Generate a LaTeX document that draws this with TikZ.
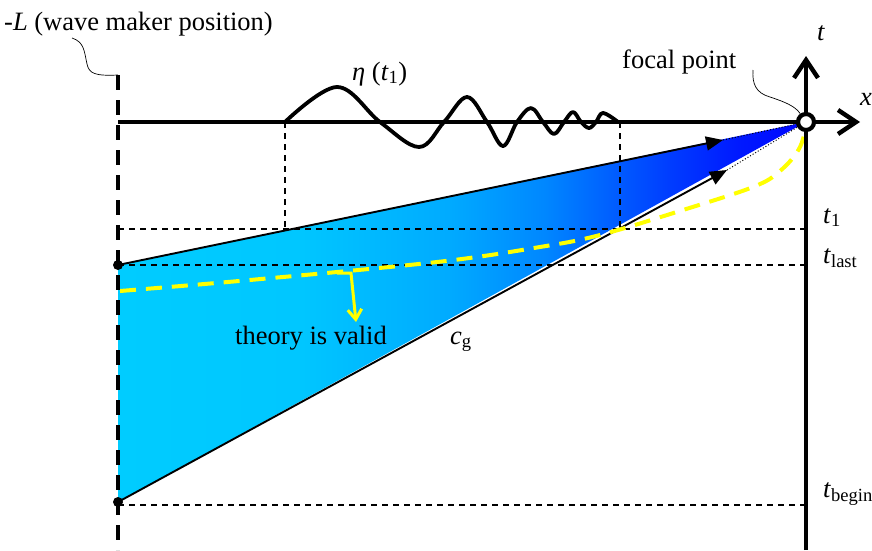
\documentclass[tikz,border=0pt]{standalone}
\usepackage{fontspec}
\setmainfont{Liberation Serif}
\usetikzlibrary{arrows.meta}
\definecolor{yel}{RGB}{255,255,0}
\pgfdeclarehorizontalshading{waveshade}{100bp}{%
  rgb(0bp)=(0,0.80,1);
  rgb(25bp)=(0,0.80,1);
  rgb(38bp)=(0,0.78,1);
  rgb(49bp)=(0,0.67,1);
  rgb(56bp)=(0,0.53,1);
  rgb(60bp)=(0,0.40,1);
  rgb(65bp)=(0,0.24,1);
  rgb(70bp)=(0,0.10,1);
  rgb(75bp)=(0,0.02,1);
  rgb(100bp)=(0,0.02,1)}
\begin{document}
\begin{tikzpicture}[x=1pt,y=-1pt,
  lbl/.style={inner sep=0pt, font=\fontsize{26.5}{30}\selectfont},
  thindash/.style={dash pattern=on 6pt off 5pt, line width=1.6pt},
  thickdash/.style={dash pattern=on 15pt off 10pt, line width=4pt},
  axisline/.style={line width=4.4pt, -{Straight Barb[length=18pt,width=24pt,line width=4.4pt]}},
  ray/.style={line width=1.9pt, -{Triangle[length=17pt,width=14pt]}},
  dotray/.style={dotted, line width=1pt},
  leader/.style={line width=0.7pt},
  yelcurve/.style={yel, line width=4pt, dash pattern=on 16pt off 10pt},
  dot/.style={circle, fill=black, inner sep=0pt, minimum size=10pt}]
\useasboundingbox (0,0) rectangle (872,550);
% key coordinates
\coordinate (F) at (806,122);
\coordinate (A) at (118,265);
\coordinate (B) at (118,502);
\coordinate (Au) at (723,140);
\coordinate (Bu) at (727,170);
\coordinate (W0) at (285,122);
\coordinate (W1) at (620,122);
\coordinate (W0b) at (285,229);
\coordinate (W1b) at (620,229);
\coordinate (T1l) at (118,229);
\coordinate (T1r) at (806,229);
\coordinate (TLl) at (118,265);
\coordinate (TLr) at (806,265);
\coordinate (TBl) at (118,505);
\coordinate (TBr) at (806,505);
\coordinate (Ltop) at (118,75);
\coordinate (Lbot) at (118,550);
\coordinate (Xs) at (118,122);
\coordinate (Xe) at (860,122);
\coordinate (Ts) at (806,550);
\coordinate (Te) at (806,56);
% blue region
\shade[shading=waveshade] (A) -- (F) -- (B) -- cycle;
% thin dashed lines
\draw[thindash] (T1l) -- (T1r);
\draw[thindash] (TLl) -- (TLr);
\draw[thindash] (TBl) -- (TBr);
\draw[thindash] (W0) -- (W0b);
\draw[thindash] (W1) -- (W1b);
% rays
\draw[ray] (A) -- (Au);
\draw[ray] (B) -- (Bu);
\draw[dotray] (Au) -- (F);
\draw[dotray] (Bu) -- (F);
% wave
\draw[line width=3.8pt, line join=round]
  plot[smooth, tension=0.6] coordinates {(285,122) (337,87) (380,122) (419,147) (444,122) (467,97) (487,122) (503,146) (517,122) (531,108) (543,122) (554,134) (564,122) (573,112) (581,122) (589,128) (596,122) (603,113) (618,122)};
% yellow validity curve
\draw[yelcurve] plot[smooth, tension=0.6] coordinates {(120,291) (250,280) (437,262) (540,247) (600,235) (683,210) (753,187) (780,171) (800,147) (808,116)};
\coordinate (Y0) at (337,273);
\coordinate (Y1) at (351,273);
\coordinate (Y2) at (356,322);
\draw[yel, line width=3pt, -{Straight Barb[length=10pt,width=14pt,line width=3pt]}] (Y0) -- (Y1) -- (Y2);
% left dashed line
\draw[thickdash] (Ltop) -- (Lbot);
% axes
\draw[axisline] (Xs) -- (Xe);
\draw[axisline] (Ts) -- (Te);
% dots
\node[dot] (DA) at (A) {};
\node[dot] (DB) at (B) {};
% focal point
\node[circle, draw=black, fill=white, line width=4.2pt, minimum size=16pt, inner sep=0pt] (FC) at (F) {};
% labels
\node[lbl, anchor=base west] (Llab) at (4,30) {-\textit{L} (wave maker position)};
\node[lbl, anchor=base west] (eta) at (352,80) {\textit{η} (\textit{t}\textsubscript{1})};
\node[lbl, anchor=base west] (focal) at (622,68) {focal point};
\node[lbl, anchor=base west] (tlab) at (817,40) {\textit{t}};
\node[lbl, anchor=base west] (xlab) at (860,105) {\textit{x}};
\node[lbl, anchor=base west] (t1lab) at (823,223) {\textit{t}\textsubscript{1}};
\node[lbl, anchor=base west] (tllab) at (823,263) {\textit{t}\textsubscript{last}};
\node[lbl, anchor=base west] (tblab) at (823,497) {\textit{t}\textsubscript{begin}};
\node[lbl, anchor=base west] (valid) at (235,344) {theory is valid};
\node[lbl, anchor=base west] (cg) at (450,344) {\textit{c}\textsubscript{g}};
% leaders
\draw[leader] (72,38) .. controls (84,42) and (84,50) .. (87,64) .. controls (89,74) and (96,76) .. (Ltop);
\draw[leader] (753,70) .. controls (752,84) and (756,93) .. (770,97) .. controls (785,102) and (795,106) .. (FC);
\end{tikzpicture}
\end{document}
